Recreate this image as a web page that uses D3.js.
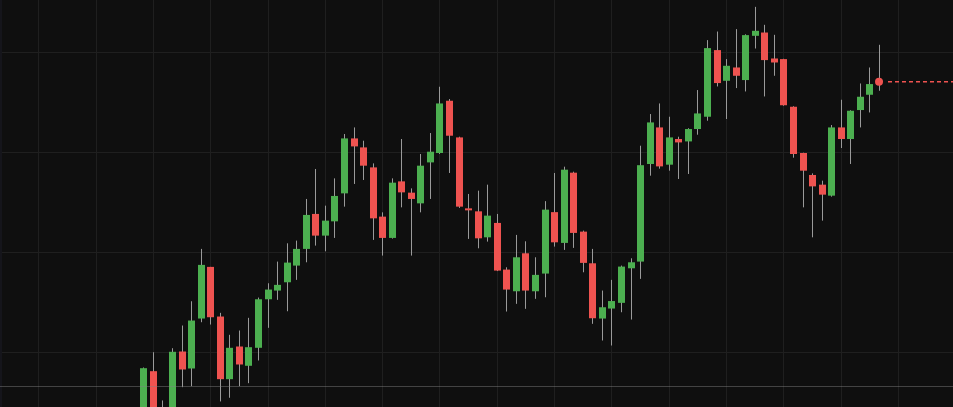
<!DOCTYPE html>
<html>
<head>
<meta charset="utf-8">
<script src="https://cdn.jsdelivr.net/npm/d3@7"></script>
<style>
  html, body { margin: 0; padding: 0; background: #0f0f0f; overflow: hidden; }
  svg { display: block; }
</style>
</head>
<body>
<svg id="chart" width="953" height="407"></svg>
<script>
// ---- data ----
const openV  = [103.15,108.08,102.35,104.15,110.05,108.35,113.35,118.52,113.55,107.28,110.55,108.62,110.42,115.28,116.15,116.98,118.65,120.32,123.82,121.65,123.08,125.88,131.38,130.48,128.48,123.55,121.42,127.08,125.95,124.88,128.98,129.92,135.15,131.48,124.38,124.08,121.48,122.92,118.25,116.08,119.88,116.08,117.85,124.00,120.92,127.95,122.05,118.88,113.35,114.35,114.92,118.38,119.05,128.82,132.48,128.75,131.32,131.08,132.32,133.55,140.22,137.15,138.48,137.22,141.65,141.98,139.38,139.32,134.55,129.92,127.72,126.75,125.65,132.48,131.32,134.22,135.75,137.15];
const highV  = [108.45,109.98,105.15,110.38,112.65,115.08,120.32,118.52,113.92,111.72,112.15,113.42,115.45,116.88,119.05,120.88,121.15,125.32,128.32,124.65,127.38,131.82,132.48,131.15,128.88,123.98,127.38,131.32,126.38,129.82,131.92,136.55,135.32,131.55,125.82,126.15,126.75,123.82,118.48,121.72,121.08,119.48,125.10,127.92,128.55,128.05,122.15,120.32,116.15,117.22,118.65,119.38,130.65,133.82,134.88,133.55,131.55,132.40,136.22,141.22,142.08,139.32,142.32,141.80,144.55,142.75,141.75,139.35,134.60,129.95,127.88,127.15,132.72,135.25,134.20,136.88,138.48,140.75];
const lowV   = [102.35,102.75,101.95,103.65,106.48,106.58,112.98,112.75,105.05,105.42,106.58,106.88,109.15,112.42,115.22,114.08,117.22,118.98,120.65,120.08,121.42,124.55,126.82,127.22,121.22,119.65,121.35,124.48,119.65,123.98,125.32,129.82,127.92,124.42,121.32,120.38,121.05,118.10,114.05,114.82,114.32,115.32,115.48,120.55,120.22,120.42,117.98,112.82,111.15,110.65,113.98,113.25,117.32,127.65,128.35,128.15,127.32,127.82,131.75,133.15,136.58,133.32,136.42,136.08,140.38,135.58,137.65,134.65,129.45,124.48,121.48,123.15,125.55,130.42,128.82,132.48,133.98,136.15];
const closeV = [108.38,103.35,104.15,110.02,108.25,113.15,118.72,113.48,107.28,110.42,108.75,110.48,115.28,116.25,116.72,118.95,120.32,123.72,121.65,123.15,125.62,131.38,130.58,128.65,123.38,121.42,126.95,125.98,125.32,128.65,130.05,134.88,131.65,124.55,124.18,121.38,123.65,118.15,116.25,119.48,116.15,117.72,124.25,120.98,128.25,121.92,118.92,113.38,114.48,115.10,118.55,118.98,128.70,132.98,128.58,131.48,130.98,132.32,133.88,140.42,136.92,138.65,137.65,141.72,142.15,139.22,138.98,134.70,129.82,128.15,126.58,125.75,132.48,131.32,134.15,135.55,136.82,137.05];
const barIndex = openV.map((_, i) => i);             // categories: bar sequence numbers
const priceTicks = [110, 120, 130, 140];              // horizontal grid levels
const timeTicks = [-11, -5, 1, 7, 13, 19, 25, 31, 37, 43, 49, 55, 61, 67, 73, 79]; // vertical grid bars

// ---- layout / style ----
const W = 953, H = 407;
const UP = "#4caf50", DOWN = "#ef5350", WICK = "#9a9a9a";
const BG = "#0f0f0f", GRID = "#1f1f1f";

const svg = d3.select("#chart");
const x = d3.scaleLinear().domain([0, barIndex.length - 1]).range([143.3, 879]);
const y = d3.scaleLinear().domain([110, 140]).range([352, 52.3]);

svg.append("rect").attr("width", W).attr("height", H).attr("fill", BG);
svg.append("rect").attr("width", 2).attr("height", H).attr("fill", "#15151b");

const crisp = v => Math.round(v) + 0.5;

// grid
const grid = svg.append("g");
grid.selectAll("line.h").data(priceTicks).join("line")
  .attr("x1", 2).attr("x2", W)
  .attr("y1", d => crisp(y(d))).attr("y2", d => crisp(y(d)))
  .attr("stroke", GRID).attr("stroke-width", 1);
grid.selectAll("line.v").data(timeTicks).join("line")
  .attr("y1", 0).attr("y2", H)
  .attr("x1", d => crisp(x(d))).attr("x2", d => crisp(x(d)))
  .attr("stroke", GRID).attr("stroke-width", 1);

// candles
const bars = barIndex.map(i => ({ i, o: openV[i], h: highV[i], l: lowV[i], c: closeV[i] }));
const g = svg.append("g");
g.selectAll("line.wick").data(bars).join("line")
  .attr("x1", d => crisp(x(d.i))).attr("x2", d => crisp(x(d.i)))
  .attr("y1", d => y(d.h)).attr("y2", d => y(d.l))
  .attr("stroke", WICK).attr("stroke-width", 1);
const bodyW = 7;
g.selectAll("rect.body").data(bars).join("rect")
  .attr("x", d => Math.round(x(d.i)) - 3)
  .attr("width", bodyW)
  .attr("y", d => y(Math.max(d.o, d.c)))
  .attr("height", d => Math.max(1.5, Math.abs(y(d.o) - y(d.c))))
  .attr("fill", d => d.c >= d.o ? UP : DOWN);

// bottom separator line drawn on top
svg.append("line").attr("x1", 0).attr("x2", W).attr("y1", 386.5).attr("y2", 386.5)
  .attr("stroke", "rgba(130,130,130,0.45)").attr("stroke-width", 1);

// last price line and marker
const last = bars[bars.length - 1];
const lastCol = last.c >= last.o ? UP : DOWN;
svg.append("line")
  .attr("x1", x(last.i) + 9).attr("x2", W)
  .attr("y1", y(last.c)).attr("y2", y(last.c))
  .attr("stroke", lastCol).attr("stroke-width", 1.3)
  .attr("stroke-dasharray", "4,3");
svg.append("circle").attr("cx", x(last.i)).attr("cy", y(last.c)).attr("r", 4).attr("fill", lastCol);
</script>
</body>
</html>
